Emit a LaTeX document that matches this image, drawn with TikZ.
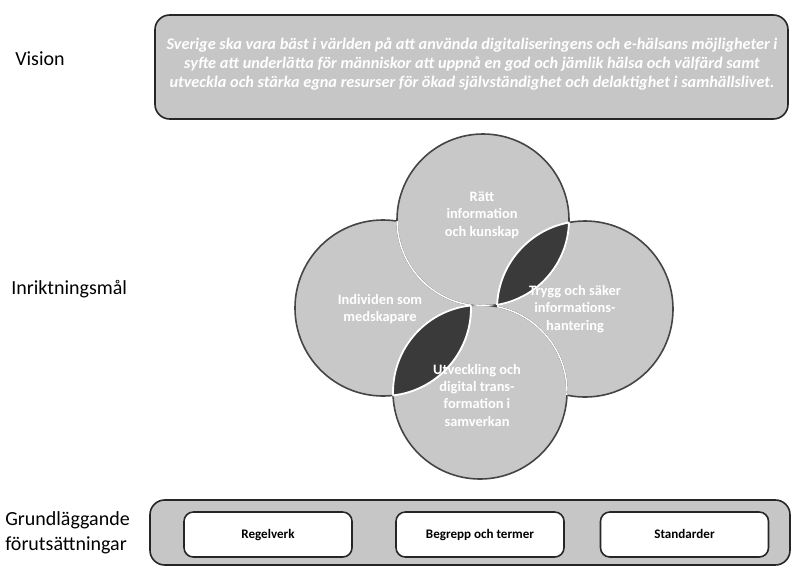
\documentclass[tikz,border=0pt]{standalone}
\usepackage{fontspec}
\setmainfont{Carlito}
\definecolor{panel}{HTML}{C6C6C6}
\definecolor{disc}{HTML}{C8C8C8}
\definecolor{edge}{HTML}{454545}
\definecolor{lens}{HTML}{3A3A3A}
\begin{document}
\begin{tikzpicture}[x=0.75pt,y=-0.75pt,
  sidelabel/.style={anchor=west, font=\fontsize{15}{19}\selectfont, text=black, align=left, inner sep=0pt},
  panelbox/.style={draw=black!85, line width=1.2pt, fill=panel, rounded corners=11pt, inner sep=0pt},
  itembox/.style={draw=black!85, line width=1.2pt, fill=white, rounded corners=7pt, minimum width=126pt, minimum height=33.75pt, inner sep=0pt, text height=1.6ex, text depth=0.4ex, font=\bfseries\fontsize{9.8}{12}\selectfont},
  disclabel/.style={align=center, text=white, font=\bfseries\fontsize{10.8}{13}\selectfont, inner sep=0pt},
  discedge/.style={draw=edge, line width=1.2pt},
  inner/.style={draw=white, line width=1.1pt},
]
\useasboundingbox (0,0) rectangle (792,568);

% side labels
\node[sidelabel] (lvision) at (15,59) {Vision};
\node[sidelabel] (lmal) at (11,289) {Inriktningsmål};
\node[sidelabel] (lgrund) at (5,533) {Grundläggande\\förutsättningar};

% vision box
\node[panelbox, minimum width=474.75pt, minimum height=78pt] (vision) at (471.5,67) {};
\node[align=center, inner sep=0pt, text=white,
      font=\bfseries\itshape\fontsize{12.2}{13.9}\selectfont] (visiontext) at (472,64)
  {Sverige ska vara bäst i världen på att använda digitaliseringens och e-hälsans möjligheter i\\
   syfte att underlätta för människor att uppnå en god och jämlik hälsa och välfärd samt\\
   utveckla och stärka egna resurser för ökad självständighet och delaktighet i samhällslivet.};

% circles
\coordinate (cL) at (383,308);
\coordinate (cR) at (585,309);
\coordinate (cT) at (483,220);
\coordinate (cB) at (480,392);
\def\rL{66pt}\def\rR{66pt}\def\rT{64.5pt}\def\rB{65.25pt}

\fill[disc] (cL) circle[radius=\rL];
\path[discedge] (cL) circle[radius=\rL];
\fill[disc] (cR) circle[radius=\rR];
\path[discedge] (cR) circle[radius=\rR];

\fill[disc] (cT) circle[radius=\rT];
\path[discedge] (cT) circle[radius=\rT];
\begin{scope}\clip (cL) circle[radius=\rL]; \path[inner] (cT) circle[radius=\rT];\end{scope}
\begin{scope}\clip (cR) circle[radius=\rR]; \path[inner] (cT) circle[radius=\rT];\end{scope}

\fill[disc] (cB) circle[radius=\rB];
\path[discedge] (cB) circle[radius=\rB];
\begin{scope}\clip (cL) circle[radius=\rL]; \path[inner] (cB) circle[radius=\rB];\end{scope}
\begin{scope}\clip (cR) circle[radius=\rR]; \path[inner] (cB) circle[radius=\rB];\end{scope}
\begin{scope}\clip (cT) circle[radius=\rT]; \path[inner] (cB) circle[radius=\rB];\end{scope}

% dark lenses
\begin{scope}\clip (cT) circle[radius=\rT]; \fill[lens] (cR) circle[radius=\rR];
  \path[draw=white, line width=1.4pt] (cR) circle[radius=\rR];\end{scope}
\begin{scope}\clip (cR) circle[radius=\rR]; \path[draw=white, line width=1.4pt] (cT) circle[radius=\rT];\end{scope}
\begin{scope}\clip (cL) circle[radius=\rL]; \fill[lens] (cB) circle[radius=\rB];
  \path[draw=white, line width=1.4pt] (cB) circle[radius=\rB];\end{scope}
\begin{scope}\clip (cB) circle[radius=\rB]; \path[draw=white, line width=1.4pt] (cL) circle[radius=\rL];\end{scope}

% circle labels
\node[disclabel] (tT) at (482,215) {Rätt\\information\\och kunskap};
\node[disclabel] (tL) at (380,309) {Individen som\\medskapare};
\node[disclabel] (tR) at (575,309) {Trygg och säker\\informations-\\hantering};
\node[disclabel] (tB) at (477,395) {Utveckling och\\digital trans-\\formation i\\samverkan};

% bottom box
\node[panelbox, minimum width=480pt, minimum height=48.75pt] (grund) at (470,532.5) {};
\node[itembox] (regel) at (268,534.5) {Regelverk};
\node[itembox] (begrepp) at (480,534.5) {Begrepp och termer};
\node[itembox] (standard) at (684.5,534.5) {Standarder};
\end{tikzpicture}
\end{document}
